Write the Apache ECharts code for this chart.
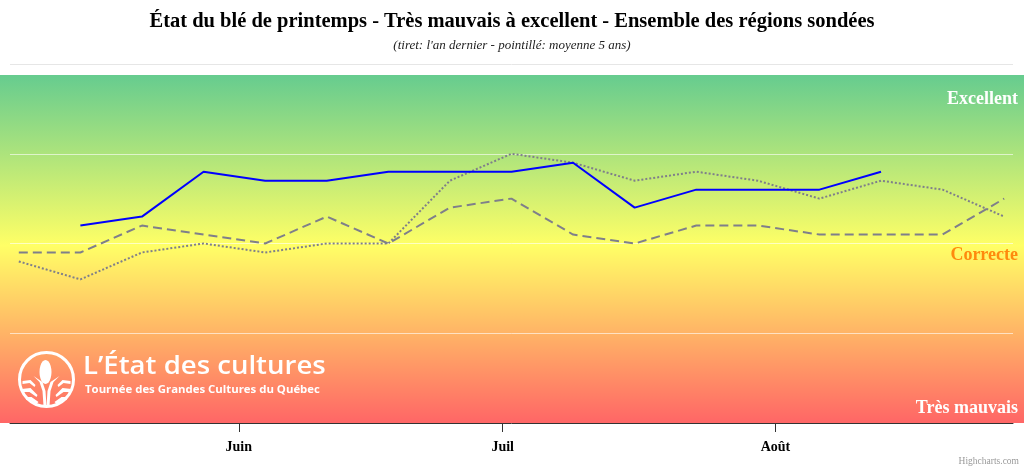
<!DOCTYPE html>
<html>
<head>
<meta charset="utf-8">
<script src="https://cdn.jsdelivr.net/npm/echarts@6/dist/echarts.min.js"></script>
<style>
html,body{margin:0;padding:0;background:#fff;}
#chart{width:1024px;height:468px;}
</style>
</head>
<body>
<div id="chart"></div>
<script>
// ---- data ----
const monthLabels = ['Juin', 'Juil', 'Août'];
const monthStarts = ['2023-06-01', '2023-07-01', '2023-08-01'];
const datesCurrent = ['2023-05-14','2023-05-21','2023-05-28','2023-06-04','2023-06-11','2023-06-18','2023-06-25',
  '2023-07-02','2023-07-09','2023-07-16','2023-07-23','2023-07-30','2023-08-06','2023-08-13'];
const datesRef = ['2023-05-07','2023-05-14','2023-05-21','2023-05-28','2023-06-04','2023-06-11','2023-06-18','2023-06-25',
  '2023-07-02','2023-07-09','2023-07-16','2023-07-23','2023-07-30','2023-08-06','2023-08-13','2023-08-20','2023-08-27'];
const currentYear = [3.2, 3.3, 3.8, 3.7, 3.7, 3.8, 3.8, 3.8, 3.9, 3.4, 3.6, 3.6, 3.6, 3.8];
const lastYear = [2.9, 2.9, 3.2, 3.1, 3.0, 3.3, 3.0, 3.4, 3.5, 3.1, 3.0, 3.2, 3.2, 3.1, 3.1, 3.1, 3.5];
const fiveYearAvg = [2.8, 2.6, 2.9, 3.0, 2.9, 3.0, 3.0, 3.7, 4.0, 3.9, 3.7, 3.8, 3.7, 3.5, 3.7, 3.6, 3.3];
const conditionLabels = ['Très mauvais', 'Correcte', 'Excellent'];
const conditionLabelValues = [1.16, 2.87, 4.61];
const xMin = '2023-05-06';
const xMax = '2023-08-28';

const ts = d => { const p = d.split('-').map(Number); return Date.UTC(p[0], p[1] - 1, p[2]); };
const pairs = (d, v) => d.map((x, i) => [ts(x), v[i]]);
const monthTicks = monthStarts.map(ts);
const serif = '"Liberation Serif", "Times New Roman", serif';

// logo corn cob outline (decorative)
const cob = [];
for (let k = 0; k < 24; k++) { const a = k / 24 * Math.PI * 2; cob.push([28 + 6 * Math.cos(a), 21 + 12 * Math.sin(a)]); }

const chart = echarts.init(document.getElementById('chart'), null, {renderer: 'canvas'});
chart.setOption({
  animation: false,
  backgroundColor: '#ffffff',
  title: {
    left: 'center', top: 6,
    text: 'État du blé de printemps - Très mauvais à excellent - Ensemble des régions sondées',
    subtext: "(tiret: l'an dernier - pointillé: moyenne 5 ans)",
    itemGap: 7,
    textStyle: {fontFamily: serif, fontWeight: 'bold', fontSize: 20.5, color: '#000'},
    subtextStyle: {fontFamily: serif, fontStyle: 'italic', fontSize: 13, color: '#222'}
  },
  grid: {left: 10, right: 11, top: 64, bottom: 45},
  xAxis: {
    type: 'value',
    min: ts(xMin),
    max: ts(xMax),
    axisLine: {show: true, lineStyle: {color: '#333', width: 1}},
    axisTick: {show: true, length: 9, lineStyle: {color: '#333'}, customValues: monthTicks},
    axisLabel: {
      customValues: monthTicks,
      formatter: function (v) {
        const i = monthTicks.indexOf(v);
        return i >= 0 ? monthLabels[i] : '';
      },
      margin: 17,
      fontFamily: serif, fontWeight: 'bold', fontSize: 14, color: '#000'
    },
    splitLine: {show: false}
  },
  yAxis: [{
    type: 'value', min: 1, max: 5, interval: 1,
    axisLine: {show: false}, axisTick: {show: false}, axisLabel: {show: false},
    splitLine: {show: true, lineStyle: {width: 1,
      color: ['rgba(0,0,0,0)', 'rgba(255,255,255,0.6)', 'rgba(255,255,255,0.6)', 'rgba(255,255,255,0.6)', '#e6e6e6']}}
  }, {
    type: 'value', min: 1, max: 5, position: 'right', offset: 5,
    axisLine: {show: false}, axisTick: {show: false}, splitLine: {show: false},
    axisLabel: {
      inside: true, margin: 0,
      customValues: conditionLabelValues,
      formatter: function (v) {
        const i = conditionLabelValues.indexOf(v);
        if (i < 0) return '';
        return (i === 1 ? '{o|' : '{w|') + conditionLabels[i] + '}';
      },
      rich: {
        w: {fontFamily: serif, fontWeight: 'bold', fontSize: 18, color: '#ffffff'},
        o: {fontFamily: serif, fontWeight: 'bold', fontSize: 18, color: '#ff8a0d'}
      }
    }
  }],
  graphic: [
    {
      type: 'rect', left: 0, top: 75, z: -10, silent: true,
      shape: {width: 1024, height: 348},
      style: {fill: new echarts.graphic.LinearGradient(0, 0, 0, 1, [
        {offset: 0, color: '#66cc8f'},
        {offset: 0.49, color: '#ffff66'},
        {offset: 1, color: '#ff6666'}
      ])}
    },
    {
      type: 'group', left: 17, top: 350, z: 50, silent: true,
      children: [
        {type: 'circle', shape: {cx: 29, cy: 28.5, r: 27}, style: {fill: 'none', stroke: '#fff', lineWidth: 3}},
        {type: 'polygon', shape: {points: cob}, style: {fill: '#fff'}},
        {type: 'polygon', shape: {points: [[16,25],[22,31],[25,40],[26,55],[29,55],[28,40],[25,31]]}, style: {fill: '#fff'}},
        {type: 'polygon', shape: {points: [[42,25],[36,31],[33,40],[32,55],[29,55],[30,40],[33,31]]}, style: {fill: '#fff'}},
        {type: 'polygon', shape: {points: [[5,30],[13,29],[18,34],[17,36],[12,32],[5,33]]}, style: {fill: '#fff'}},
        {type: 'polygon', shape: {points: [[4,38],[13,37],[20,44],[19,46],[12,41],[4,41]]}, style: {fill: '#fff'}},
        {type: 'polygon', shape: {points: [[8,46],[14,46],[21,51],[19,53],[13,49],[9,49]]}, style: {fill: '#fff'}},
        {type: 'polygon', shape: {points: [[53,30],[45,29],[40,34],[41,36],[46,32],[53,33]]}, style: {fill: '#fff'}},
        {type: 'polygon', shape: {points: [[54,38],[45,37],[38,44],[39,46],[46,41],[54,41]]}, style: {fill: '#fff'}},
        {type: 'polygon', shape: {points: [[50,46],[44,46],[37,51],[39,53],[45,49],[49,49]]}, style: {fill: '#fff'}}
      ]
    },
    {
      type: 'text', left: 83, top: 354, z: 50, silent: true, scaleX: 1.06,
      style: {text: 'L’État des cultures', fill: '#fff', font: '600 26px "Open Sans", "Noto Sans", sans-serif'}
    },
    {
      type: 'text', left: 85, top: 384, z: 50, silent: true, scaleX: 1.035,
      style: {text: 'Tournée des Grandes Cultures du Québec', fill: '#fff', font: 'bold 11px "Open Sans", "Noto Sans", sans-serif'}
    },
    {
      type: 'text', right: 5, top: 456, silent: true,
      style: {text: 'Highcharts.com', fill: '#999', font: '9.5px ' + serif}
    }
  ],
  series: [
    {
      name: "l'an dernier", type: 'line', data: pairs(datesRef, lastYear),
      showSymbol: false, symbol: 'none', z: 3,
      lineStyle: {color: '#7f7f8a', width: 2, type: [9, 5]}
    },
    {
      name: 'moyenne 5 ans', type: 'line', data: pairs(datesRef, fiveYearAvg),
      showSymbol: false, symbol: 'none', z: 3,
      lineStyle: {color: '#7f7f8a', width: 2, type: [2, 2]}
    },
    {
      name: 'cette année', type: 'line', data: pairs(datesCurrent, currentYear),
      showSymbol: false, symbol: 'none', z: 4,
      lineStyle: {color: '#0000ff', width: 2}
    }
  ]
});
</script>
</body>
</html>
